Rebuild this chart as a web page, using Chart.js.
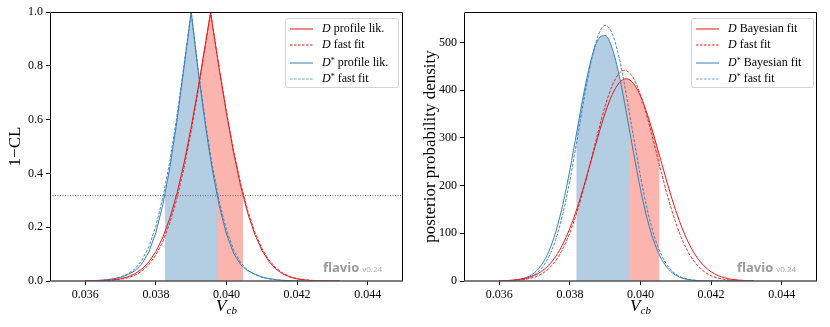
<!DOCTYPE html>
<html>
<head>
<meta charset="utf-8">
<script src="https://cdn.jsdelivr.net/npm/chart.js@4.4.0/dist/chart.umd.min.js"></script>
<style>
  body { margin: 0; background: #fff; }
  #wrap { position: relative; width: 830px; height: 327px; font-family: 'Liberation Serif', serif; color: #000; }
  .panel { position: absolute; top: 0; width: 415px; height: 327px; }
  .legend { position: absolute; top: 18px; height: 68px; background: rgba(255,255,255,0.85);
            border: 1px solid #d4d4d4; border-radius: 3px; font-size: 12px; }
  .legend .row { position: absolute; left: 4px; height: 16px; line-height: 16px; white-space: nowrap; }
  .legend svg { display: inline-block; vertical-align: middle; margin-right: 9px; }
  .legend sup { font-size: 8px; vertical-align: 3px; }
  .xtitle { position: absolute; top: 297px; text-align: center; font-size: 17px; line-height: 1; }
  .xtitle sub { font-size: 11px; vertical-align: -3px; }
</style>
</head>
<body>
<div id="wrap">
  <div class="panel" style="left:0"><canvas id="lik"></canvas></div>
  <div class="panel" style="left:415px"><canvas id="post"></canvas></div>

  <div class="legend" style="left:285px;width:112px">
    <div class="row" style="top:1px"><svg width="23" height="4"><line x1="0" y1="2" x2="23" y2="2" stroke="#f08a8a" stroke-width="2"/></svg><i>D</i> profile lik.</div>
    <div class="row" style="top:17px"><svg width="23" height="4"><line x1="0" y1="2" x2="23" y2="2" stroke="#e41a1c" stroke-width="1" stroke-dasharray="2.5,1.5"/></svg><i>D</i> fast fit</div>
    <div class="row" style="top:34px"><svg width="23" height="4"><line x1="0" y1="2" x2="23" y2="2" stroke="#377eb8" stroke-width="1"/></svg><i>D</i><sup>*</sup> profile lik.</div>
    <div class="row" style="top:50px"><svg width="23" height="4"><line x1="0" y1="2" x2="23" y2="2" stroke="#6a9fd0" stroke-width="1" stroke-dasharray="2.5,1.5"/></svg><i>D</i><sup>*</sup> fast fit</div>
  </div>
  <div class="legend" style="left:691px;width:121px">
    <div class="row" style="top:1px"><svg width="23" height="4"><line x1="0" y1="2" x2="23" y2="2" stroke="#f08a8a" stroke-width="2"/></svg><i>D</i> Bayesian fit</div>
    <div class="row" style="top:17px"><svg width="23" height="4"><line x1="0" y1="2" x2="23" y2="2" stroke="#e41a1c" stroke-width="1" stroke-dasharray="2.5,1.5"/></svg><i>D</i> fast fit</div>
    <div class="row" style="top:34px"><svg width="23" height="4"><line x1="0" y1="2" x2="23" y2="2" stroke="#377eb8" stroke-width="1"/></svg><i>D</i><sup>*</sup> Bayesian fit</div>
    <div class="row" style="top:50px"><svg width="23" height="4"><line x1="0" y1="2" x2="23" y2="2" stroke="#6a9fd0" stroke-width="1" stroke-dasharray="2.5,1.5"/></svg><i>D</i><sup>*</sup> fast fit</div>
  </div>

  <div class="xtitle" style="left:50px;width:353px"><i>V</i><sub><i>cb</i></sub></div>
  <div class="xtitle" style="left:464px;width:353px"><i>V</i><sub><i>cb</i></sub></div>
</div>

<script>
// V_cb grid shared by all curves
const vcb = [0.0360, 0.0362, 0.0364, 0.0366, 0.0368, 0.0370, 0.0372, 0.0374, 0.0376, 0.0378,
  0.0380, 0.0382, 0.0384, 0.0386, 0.0388, 0.0390, 0.0392, 0.0394, 0.03955, 0.0396,
  0.0398, 0.0400, 0.0402, 0.0404, 0.0406, 0.0408, 0.0410, 0.0412, 0.0414, 0.0416,
  0.0418, 0.0420, 0.0422, 0.0424, 0.0426, 0.0428, 0.0430, 0.0432]

// left: 1-CL
const dProfile = [0.0002, 0.0005, 0.0011, 0.0023, 0.0045, 0.0084, 0.0151, 0.0263, 0.0439, 0.0708,
  0.1096, 0.1636, 0.2356, 0.3276, 0.4402, 0.5720, 0.7203, 0.8800, 1.0, 0.9533,
  0.7830, 0.6225, 0.4782, 0.3543, 0.2530, 0.1739, 0.1148, 0.0728, 0.0443, 0.0259,
  0.0145, 0.0078, 0.0040, 0.0020, 0.0009, 0.0004, 0.0002, 0.0001]
const dFastLik = [0.0001, 0.0003, 0.0007, 0.0015, 0.0031, 0.0062, 0.0116, 0.0210, 0.0364, 0.0605,
  0.0965, 0.1479, 0.2180, 0.3091, 0.4226, 0.5570, 0.7099, 0.8753, 1.0, 0.9542,
  0.7870, 0.6291, 0.4866, 0.3635, 0.2622, 0.1822, 0.1219, 0.0784, 0.0486, 0.0289,
  0.0165, 0.0090, 0.0048, 0.0024, 0.0012, 0.0005, 0.0002, 0.0001]
const dstarProfile = [0.0006, 0.0012, 0.0025, 0.0045, 0.0081, 0.0135, 0.0232, 0.0379, 0.0631, 0.1076,
  0.1808, 0.2857, 0.4255, 0.5989, 0.7981, 1.0, 0.7767, 0.5807, 0.4509, 0.4115,
  0.2757, 0.1742, 0.1035, 0.0607, 0.0380, 0.0260, 0.0152, 0.0090, 0.0048, 0.0024,
  0.0011, 0.0005, 0.0002, 0.0001, 0, 0, 0, 0]
const dstarFastLik = [0.0004, 0.0009, 0.0022, 0.0045, 0.0085, 0.0150, 0.0260, 0.0440, 0.0760, 0.1270,
  0.2045, 0.3111, 0.4497, 0.6171, 0.8075, 1.0, 0.7851, 0.5944, 0.4671, 0.4283,
  0.2928, 0.1895, 0.1162, 0.0680, 0.0400, 0.0240, 0.0140, 0.0080, 0.0042, 0.0020,
  0.0009, 0.0004, 0.0002, 0.0001, 0, 0, 0, 0]

// right: posterior density
const dBayes = [0.5, 0.9, 1.9, 3.7, 6.8, 12.0, 20.4, 33.2, 51.7, 77.3,
  110.7, 151.9, 199.8, 251.8, 304.3, 352.4, 391.1, 415.9, 423.6, 424.0,
  414.2, 387.8, 347.9, 299.2, 246.6, 194.7, 147.4, 106.9, 74.3, 49.5,
  31.7, 19.3, 11.3, 6.4, 3.4, 1.8, 0.9, 0.4]
const dFastPost = [0.2, 0.5, 1.0, 2.1, 4.3, 8.2, 15.0, 26.0, 42.9, 67.6,
  101.3, 144.6, 196.5, 254.2, 313.0, 367.2, 410.0, 436.0, 442.0, 441.3,
  425.4, 390.4, 341.1, 283.8, 224.8, 169.5, 121.8, 83.3, 54.2, 33.6,
  19.8, 11.1, 6.0, 3.0, 1.5, 0.7, 0.3, 0.1]
const dstarBayes = [0.2, 0.6, 1.6, 3.9, 8.6, 17.8, 34.3, 61.7, 103.1, 160.5,
  232.9, 314.7, 395.9, 463.9, 506.3, 514.7, 487.3, 429.6, 373.1, 352.8,
  269.8, 192.2, 127.5, 78.8, 45.3, 24.3, 12.1, 5.6, 2.4, 1.0,
  0.4, 0.1, 0, 0, 0, 0, 0, 0]
const dstarFastPost = [0.1, 0.4, 1.1, 2.7, 6.2, 13.4, 26.9, 50.3, 87.3, 140.8,
  211.2, 294.4, 381.6, 459.7, 514.8, 536.0, 518.6, 466.5, 410.7, 390.0,
  303.2, 219.1, 147.1, 91.8, 53.3, 28.7, 14.4, 6.7, 2.9, 1.2,
  0.4, 0.1, 0, 0, 0, 0, 0, 0]

const xTicks = [0.036, 0.038, 0.040, 0.042, 0.044]
const likTicks = [0, 0.2, 0.4, 0.6, 0.8, 1.0]
const postTicks = [0, 100, 200, 300, 400, 500]
const xMin = 0.035, xMax = 0.045
const postMax = 564
const oneSigma = 0.3173

// 1 sigma ranges (shaded) and curve height at their edges
const dRangeLik = [0.03858, 0.04047]
const dstarRangeLik = [0.03825, 0.03973]
const dRangePost = [0.03862, 0.04054]
const dEdgePost = [257, 262]
const dstarRangePost = [0.03818, 0.03970]
const dstarEdgePost = [306, 311]

const RED = '#e41a1c', BLUE = '#377eb8'
const SERIF = "'Liberation Serif', serif"

function pts(arr) {
  return vcb.map((x, i) => ({x: x, y: arr[i]}))
}
function band(arr, range, edge) {
  const inside = pts(arr).filter(p => p.x > range[0] && p.x < range[1])
  return [{x: range[0], y: edge[0]}, ...inside, {x: range[1], y: edge[1]}]
}
function curve(arr, color, dashed) {
  return {
    data: pts(arr), borderColor: color, borderWidth: dashed ? 0.9 : 1,
    borderDash: dashed ? [3, 1.5] : [], pointRadius: 0, fill: false, order: 1
  }
}
function shade(data, color, order) {
  return { data: data, borderWidth: 0, backgroundColor: color, pointRadius: 0, fill: 'origin', order: order }
}

const frame = {
  id: 'frame',
  afterDatasetsDraw(chart) {
    const {ctx, chartArea: a} = chart
    ctx.save()
    ctx.strokeStyle = '#000'
    ctx.lineWidth = 1
    ctx.beginPath()
    ctx.moveTo(a.left + 0.5, a.bottom)
    ctx.lineTo(a.left + 0.5, a.top + 0.5)
    ctx.lineTo(a.right - 0.5, a.top + 0.5)
    ctx.lineTo(a.right - 0.5, a.bottom)
    ctx.stroke()
    ctx.strokeStyle = '#555'
    ctx.lineWidth = 1.6
    ctx.beginPath()
    ctx.moveTo(a.left, a.bottom)
    ctx.lineTo(a.right, a.bottom)
    ctx.stroke()
    // flavio watermark
    ctx.textBaseline = 'alphabetic'
    ctx.fillStyle = '#9a9a9a'
    ctx.font = "bold 13px 'Open Sans', sans-serif"
    const x0 = a.right - 80
    ctx.fillText('flavio', x0, a.bottom - 9)
    const w = ctx.measureText('flavio').width
    ctx.font = "8px 'Open Sans', sans-serif"
    ctx.fillStyle = '#aaaaaa'
    ctx.fillText('v0.24', x0 + w + 3, a.bottom - 9)
    ctx.restore()
  }
}

function options(yTicks, yMax, yTitle, fmt, yWidth, padRight, tension) {
  return {
    responsive: true,
    maintainAspectRatio: false,
    animation: false,
    events: [],
    layout: { padding: { top: 12, right: padRight, left: 0, bottom: 0 } },
    elements: { line: { tension: 0, cubicInterpolationMode: tension ? 'monotone' : 'default' } },
    scales: {
      x: {
        type: 'linear', min: xMin, max: xMax,
        afterBuildTicks: s => { s.ticks = xTicks.map(v => ({value: v})) },
        afterFit: s => { s.height = 46 },
        ticks: { color: '#000', font: { family: SERIF, size: 12 }, padding: 3, maxRotation: 0,
                 callback: v => v.toFixed(3) },
        grid: { drawOnChartArea: false, tickLength: 4, color: '#000' },
        border: { display: false }
      },
      y: {
        min: 0, max: yMax,
        afterBuildTicks: s => { s.ticks = yTicks.map(v => ({value: v})) },
        afterFit: s => { s.width = yWidth },
        ticks: { color: '#000', font: { family: SERIF, size: 12 }, padding: 3, callback: fmt },
        grid: { drawOnChartArea: false, tickLength: 4, color: '#000' },
        border: { display: false },
        title: { display: true, text: yTitle, color: '#000', font: { family: SERIF, size: 17 },
                 padding: { top: 5, bottom: 0 } }
      }
    },
    plugins: { legend: { display: false }, tooltip: { enabled: false } }
  }
}

new Chart(document.getElementById('lik'), {
  type: 'line',
  data: {
    datasets: [
      curve(dProfile, RED, false),
      curve(dFastLik, RED, true),
      curve(dstarProfile, BLUE, false),
      curve(dstarFastLik, BLUE, true),
      { data: [{x: xMin, y: oneSigma}, {x: xMax, y: oneSigma}], borderColor: '#666', borderWidth: 1,
        borderDash: [1, 1.5], pointRadius: 0, fill: false, order: 1 },
      shade(band(dstarProfile, dstarRangeLik, [oneSigma, oneSigma]), '#b3cde3', 2),
      shade(band(dProfile, dRangeLik, [oneSigma, oneSigma]), '#fbb4ae', 3)
    ]
  },
  options: options(likTicks, 1, '1\u2212CL', v => v.toFixed(1), 50, 12, false),
  plugins: [frame]
})

new Chart(document.getElementById('post'), {
  type: 'line',
  data: {
    datasets: [
      curve(dBayes, RED, false),
      curve(dFastPost, RED, true),
      curve(dstarBayes, BLUE, false),
      curve(dstarFastPost, BLUE, true),
      shade(band(dstarBayes, dstarRangePost, dstarEdgePost), '#b3cde3', 2),
      shade(band(dBayes, dRangePost, dEdgePost), '#fbb4ae', 3)
    ]
  },
  options: options(postTicks, postMax, 'posterior probability density', v => String(v), 49, 13, true),
  plugins: [frame]
})
</script>
</body>
</html>
